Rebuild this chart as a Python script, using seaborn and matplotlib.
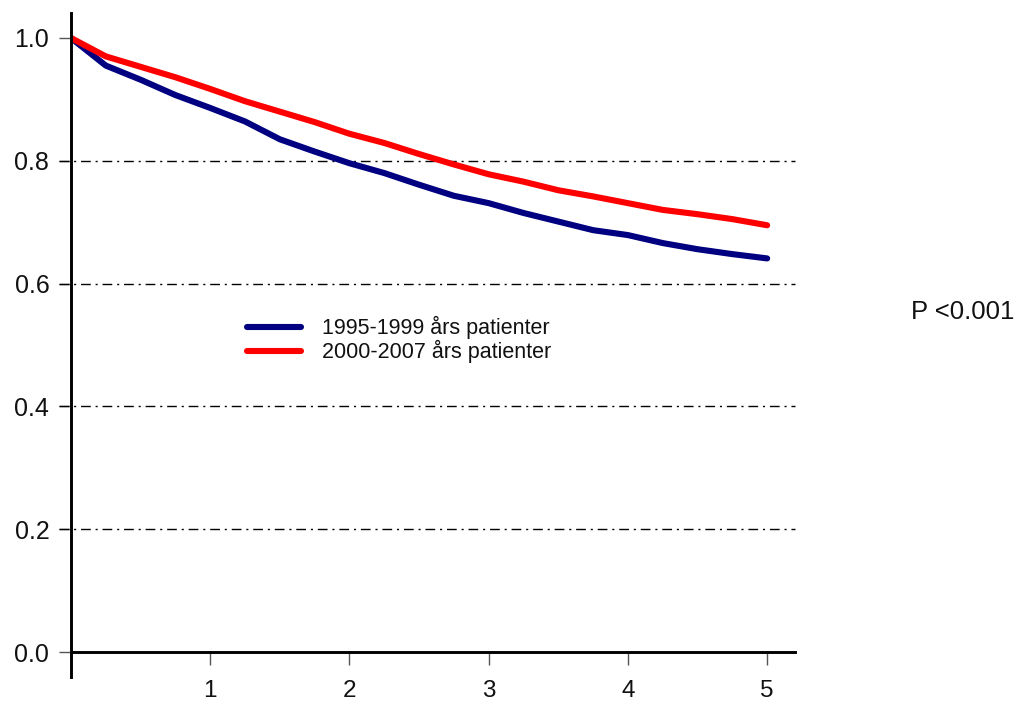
import matplotlib
matplotlib.use("Agg")
import matplotlib.pyplot as plt
import seaborn as sns
import pandas as pd

# Survival proportion by follow-up year, two patient cohorts
years = [0.0, 0.25, 0.5, 0.75, 1.0, 1.25, 1.5, 1.75, 2.0, 2.25, 2.5,
         2.75, 3.0, 3.25, 3.5, 3.75, 4.0, 4.25, 4.5, 4.75, 5.0]
surv_1995_1999 = [1.000, 0.955, 0.932, 0.907, 0.886, 0.864, 0.835, 0.815,
                  0.796, 0.780, 0.761, 0.743, 0.731, 0.715, 0.701, 0.687,
                  0.679, 0.666, 0.656, 0.648, 0.641]
surv_2000_2007 = [1.000, 0.970, 0.953, 0.936, 0.917, 0.897, 0.880, 0.863,
                  0.844, 0.829, 0.811, 0.794, 0.778, 0.766, 0.752, 0.742,
                  0.731, 0.720, 0.713, 0.705, 0.695]
cohort_labels = ["1995-1999 års patienter", "2000-2007 års patienter"]
cohort_colors = ["#000080", "#FF0000"]
y_ticks = [0.0, 0.2, 0.4, 0.6, 0.8, 1.0]
x_ticks = [1, 2, 3, 4, 5]
grid_levels = [0.2, 0.4, 0.6, 0.8]
p_text = "P <0.001"

df = pd.DataFrame({
    "year": years * 2,
    "survival": surv_1995_1999 + surv_2000_2007,
    "cohort": [cohort_labels[0]] * len(years) + [cohort_labels[1]] * len(years),
})

sns.set_theme(style="white")
plt.rcParams["font.family"] = ["Liberation Sans", "DejaVu Sans"]

W, H = 1017, 704
fig = plt.figure(figsize=(W / 100, H / 100), dpi=100)
ax = fig.add_axes([71 / W, 1 - 676.6 / H, (795 - 71) / W, (676.6 - 13.4) / H])

# dash-dot reference lines
ax.hlines(grid_levels, -0.085, 5.2, colors="black", linewidth=1.0,
          linestyles=[(0, (7, 3.5, 1.5, 3.5))], clip_on=False, zorder=1)

sns.lineplot(data=df, x="year", y="survival", hue="cohort",
             hue_order=cohort_labels, palette=cohort_colors,
             linewidth=4.4, solid_capstyle="round", ax=ax, zorder=3)

ax.set_xlim(0, 5.2)
ax.set_ylim(-0.04, 1.04)
ax.set_xticks(x_ticks)
ax.set_xticklabels([str(v) for v in x_ticks])
ax.set_yticks(y_ticks)
ax.set_yticklabels([f"{v:.1f}" for v in y_ticks])
ax.set_xlabel("")
ax.set_ylabel("")

for side in ["top", "right"]:
    ax.spines[side].set_visible(False)
ax.spines["bottom"].set_position(("data", 0))
for side in ["left", "bottom"]:
    ax.spines[side].set_color("black")
    ax.spines[side].set_linewidth(2.1)
    ax.spines[side].set_zorder(4)

ax.tick_params(axis="y", direction="out", length=8.6, width=1.0,
               color="#555555", pad=7, labelsize=18, labelcolor="#111111",
               left=True)
ax.tick_params(axis="x", direction="out", length=9, width=1.0,
               color="#555555", pad=11, labelsize=17.5, labelcolor="#111111",
               bottom=True)

leg = ax.legend(loc="upper left", bbox_to_anchor=(247 / W, 1 - 316 / H),
                bbox_transform=fig.transFigure, frameon=False, fontsize=15.5,
                handlelength=2.5, handletextpad=1.0, labelspacing=0.05,
                borderpad=0, borderaxespad=0)
for t in leg.get_texts():
    t.set_color("#111111")

fig.text(911 / W, 1 - 312 / H, p_text, fontsize=18.5, color="#111111",
         ha="left", va="center")

fig.savefig("out.png", dpi=100, facecolor="white")
